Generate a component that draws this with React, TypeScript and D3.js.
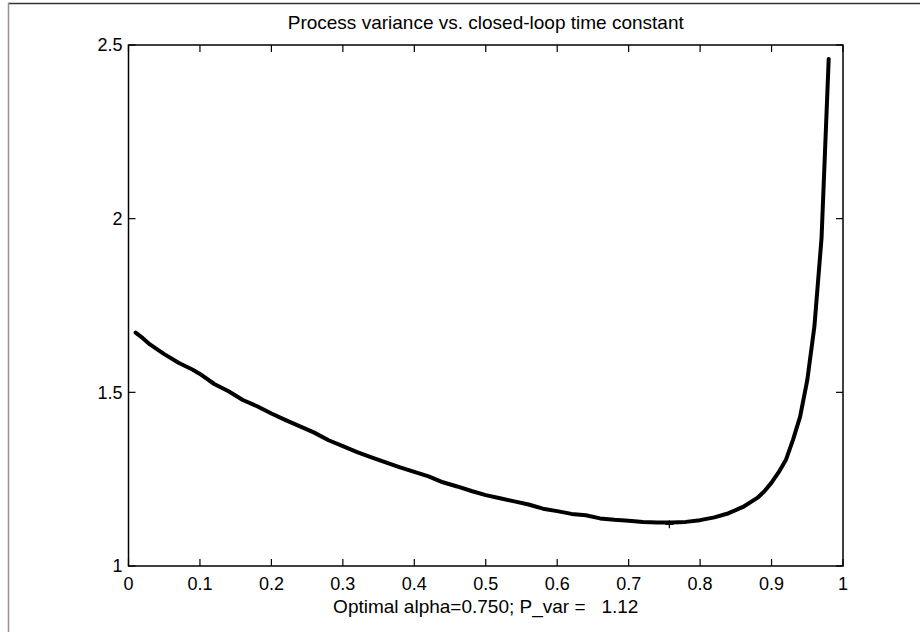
import React from "react";
import * as d3 from "d3";

// alpha (closed-loop time constant) and process variance
const alphas = [
  0.01, 0.02, 0.03, 0.05, 0.07, 0.09, 0.1, 0.12, 0.14, 0.16, 0.18, 0.2, 0.22,
  0.24, 0.26, 0.28, 0.3, 0.32, 0.34, 0.36, 0.38, 0.4, 0.42, 0.44, 0.46, 0.48,
  0.5, 0.52, 0.54, 0.56, 0.58, 0.6, 0.62, 0.64, 0.66, 0.68, 0.7, 0.72, 0.74,
  0.76, 0.78, 0.8, 0.82, 0.84, 0.86, 0.88, 0.89, 0.9, 0.91, 0.92, 0.93, 0.94,
  0.95, 0.96, 0.97, 0.98,
];
const variances = [
  1.672, 1.656, 1.638, 1.61, 1.585, 1.565, 1.553, 1.524, 1.503, 1.478, 1.46,
  1.439, 1.42, 1.402, 1.384, 1.362, 1.345, 1.328, 1.313, 1.298, 1.284, 1.271,
  1.258, 1.241, 1.229, 1.216, 1.204, 1.195, 1.186, 1.177, 1.165, 1.158, 1.15,
  1.146, 1.137, 1.133, 1.13, 1.127, 1.125, 1.125, 1.127, 1.132, 1.14, 1.152,
  1.17, 1.196, 1.215, 1.24, 1.27, 1.305, 1.363, 1.43, 1.535, 1.69, 1.945, 2.46,
];

const xTicks = [0, 0.1, 0.2, 0.3, 0.4, 0.5, 0.6, 0.7, 0.8, 0.9, 1];
const xTickLabels = ["0", "0.1", "0.2", "0.3", "0.4", "0.5", "0.6", "0.7", "0.8", "0.9", "1"];
const yTicks = [1, 1.5, 2, 2.5];
const yTickLabels = ["1", "1.5", "2", "2.5"];

// "+" marker at the minimum, as it sits in the picture
const optMarker = [0.757, 1.12];

const titleText = "Process variance vs. closed-loop time constant";
const xLabelText = "Optimal alpha=0.750; P_var =   1.12";

const W = 920;
const H = 632;
const left = 128.5;
const right = 843;
const top = 45;
const bottom = 566;
const tickLen = 7;
const font = "'Liberation Sans', Arial, sans-serif";
const fs = 18;
const labelFs = 19;

export default function App() {
  const x = d3.scaleLinear().domain([0, 1]).range([left, right]);
  const y = d3.scaleLinear().domain([1, 2.5]).range([bottom, top]);

  const pts = alphas.map((a, i) => [a, variances[i]] as [number, number]);
  const line = d3
    .line<[number, number]>()
    .x((d) => x(d[0]))
    .y((d) => y(d[1]));

  const cx = (left + right) / 2;
  const mx = x(optMarker[0]);
  const my = y(optMarker[1]);

  return (
    <div style={{ position: "fixed", left: 0, top: 0, width: W, height: H, background: "#fff" }}>
      <svg width={W} height={H} style={{ display: "block" }} fontFamily={font}>
        <rect x={0} y={0} width={W} height={H} fill="#fff" />
        {/* figure frame, cut off by the window */}
        <line x1={8} y1={3.5} x2={W} y2={3.5} stroke="#3a3030" strokeWidth={1.5} />
        <line x1={8.5} y1={3} x2={8.5} y2={H} stroke="#9a9090" strokeWidth={1.5} />

        {/* axes box */}
        <rect
          x={left}
          y={top}
          width={right - left}
          height={bottom - top}
          fill="none"
          stroke="#000"
          strokeWidth={1.5}
        />

        {/* x ticks, bottom and top */}
        {xTicks.map((t, i) => (
          <g key={"x" + i}>
            <line x1={x(t)} x2={x(t)} y1={bottom} y2={bottom - tickLen} stroke="#000" strokeWidth={1.2} />
            <line x1={x(t)} x2={x(t)} y1={top} y2={top + tickLen} stroke="#000" strokeWidth={1.2} />
            <text x={x(t)} y={590} fontSize={fs} textAnchor="middle" fill="#000">
              {xTickLabels[i]}
            </text>
          </g>
        ))}

        {/* y ticks, left and right */}
        {yTicks.map((t, i) => (
          <g key={"y" + i}>
            <line x1={left} x2={left + tickLen} y1={y(t)} y2={y(t)} stroke="#000" strokeWidth={1.2} />
            <line x1={right} x2={right - tickLen} y1={y(t)} y2={y(t)} stroke="#000" strokeWidth={1.2} />
            <text
              x={left - 6}
              y={y(t)}
              dy="0.36em"
              fontSize={fs}
              textAnchor="end"
              fill="#000"
            >
              {yTickLabels[i]}
            </text>
          </g>
        ))}

        {/* curve */}
        <path
          d={line(pts) || ""}
          fill="none"
          stroke="#000"
          strokeWidth={4}
          strokeLinejoin="round"
          strokeLinecap="round"
        />

        {/* optimum marker */}
        <line x1={mx - 4} x2={mx + 4} y1={my} y2={my} stroke="#000" strokeWidth={1.2} />
        <line x1={mx} x2={mx} y1={my - 4} y2={my + 4} stroke="#000" strokeWidth={1.2} />

        <text x={cx} y={29} fontSize={labelFs} textAnchor="middle" fill="#000">
          {titleText}
        </text>
        <text x={cx} y={613} fontSize={labelFs} textAnchor="middle" fill="#000" style={{ whiteSpace: "pre" }}>
          {xLabelText}
        </text>
      </svg>
    </div>
  );
}
